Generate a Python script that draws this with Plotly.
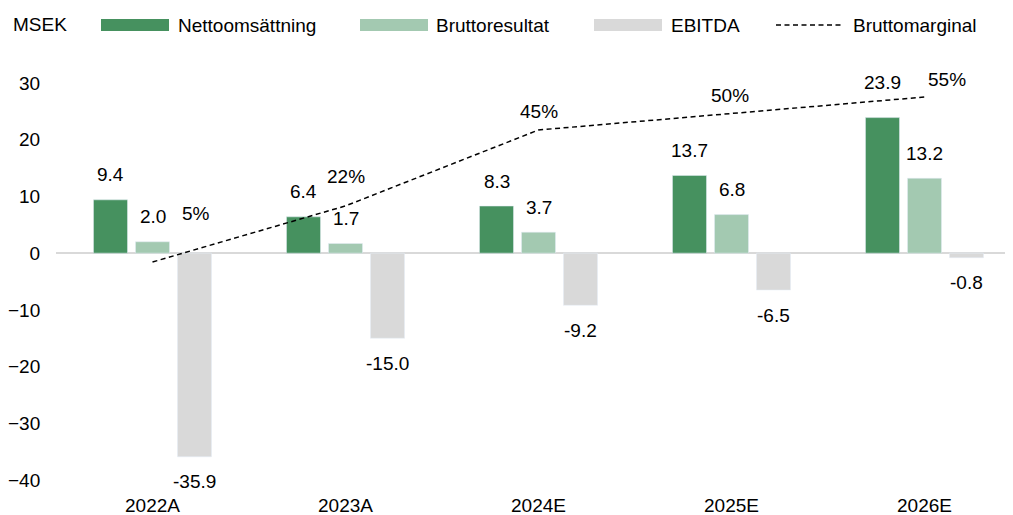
import plotly.graph_objects as go

# ---- data ----
categories = ["2022A", "2023A", "2024E", "2025E", "2026E"]
nettoomsattning = [9.4, 6.4, 8.3, 13.7, 23.9]
bruttoresultat = [2.0, 1.7, 3.7, 6.8, 13.2]
ebitda = [-35.9, -15.0, -9.2, -6.5, -0.8]
bruttomarginal = [0.05, 0.22, 0.45, 0.50, 0.55]
series_names = ["Nettoomsättning", "Bruttoresultat", "EBITDA", "Bruttomarginal"]
unit_label = "MSEK"

# ---- style ----
FONT = "Liberation Sans, Arial, sans-serif"
FS = 19
C_NETTO = "#46915f"
C_BRUTTO = "#a3c9b1"
C_EBITDA = "#d9d9d9"
OFF = 8                       # page body margin
W, H = 1013 - OFF, 515 - OFF
L, R, T, B = 56 - OFF, 0, 83 - OFF, 35
PW, PH = W - L - R, H - T - B
BAR_OFF = 42          # px between grouped bar centres
LBL_GAP = 25          # px from bar end to label centre
# per-point label shifts for the margin line (px)
margin_lbl_dx = [43, 0, 0, -2, 22]
margin_lbl_dy = [49, 29, 18, 18, 17]
netto_lbl_dy = [LBL_GAP, LBL_GAP, LBL_GAP, LBL_GAP, 35]


def px_x(p):
    return (p - OFF - L) / PW


def px_y(p):
    return (H - B - (p - OFF)) / PH


fig = go.Figure()
fig.add_trace(go.Bar(x=categories, y=nettoomsattning, name=series_names[0],
                     marker_color=C_NETTO, showlegend=False))
fig.add_trace(go.Bar(x=categories, y=bruttoresultat, name=series_names[1],
                     marker_color=C_BRUTTO, showlegend=False))
fig.add_trace(go.Bar(x=categories, y=ebitda, name=series_names[2],
                     marker_color=C_EBITDA, showlegend=False))
fig.add_trace(go.Scatter(x=categories, y=bruttomarginal, name=series_names[3],
                         mode="lines", yaxis="y2", showlegend=False,
                         line=dict(color="black", width=1.5, dash="5px,3.5px")))

ann = []
for i, c in enumerate(categories):
    ann.append(dict(x=c, y=nettoomsattning[i], xref="x", yref="y",
                    text=f"{nettoomsattning[i]:.1f}", showarrow=False,
                    xshift=-BAR_OFF, yshift=netto_lbl_dy[i]))
    ann.append(dict(x=c, y=bruttoresultat[i], xref="x", yref="y",
                    text=f"{bruttoresultat[i]:.1f}", showarrow=False,
                    xshift=0, yshift=LBL_GAP))
    ann.append(dict(x=c, y=ebitda[i], xref="x", yref="y",
                    text=f"{ebitda[i]:.1f}", showarrow=False,
                    xshift=BAR_OFF, yshift=-LBL_GAP))
    ann.append(dict(x=c, y=bruttomarginal[i], xref="x", yref="y2",
                    text=f"{bruttomarginal[i]*100:.0f}%", showarrow=False,
                    xshift=margin_lbl_dx[i], yshift=margin_lbl_dy[i]))

# manual legend (page pixel coordinates)
LEG_Y = 25
ann.append(dict(x=px_x(11), y=px_y(LEG_Y - 1), xref="paper", yref="paper",
                text=unit_label, showarrow=False, xanchor="left", yanchor="middle"))
swatches = [(101, 169, C_NETTO, 176), (360, 428, C_BRUTTO, 434), (594, 662, C_EBITDA, 669)]
shapes = []
for (x0, x1, col, tx), name in zip(swatches, series_names[:3]):
    shapes.append(dict(type="rect", xref="paper", yref="paper",
                       x0=px_x(x0), x1=px_x(x1), y0=px_y(LEG_Y - 6), y1=px_y(LEG_Y + 6),
                       fillcolor=col, line=dict(width=0)))
    ann.append(dict(x=px_x(tx), y=px_y(LEG_Y), xref="paper", yref="paper",
                    text=name, showarrow=False, xanchor="left", yanchor="middle"))
shapes.append(dict(type="line", xref="paper", yref="paper",
                   x0=px_x(776), x1=px_x(843), y0=px_y(LEG_Y), y1=px_y(LEG_Y),
                   line=dict(color="black", width=1.5, dash="5px,3.5px")))
ann.append(dict(x=px_x(851), y=px_y(LEG_Y), xref="paper", yref="paper",
                text=series_names[3], showarrow=False, xanchor="left", yanchor="middle"))

fig.update_layout(
    width=W, height=H,
    margin=dict(l=L, r=R, t=T, b=B, autoexpand=False),
    paper_bgcolor="white", plot_bgcolor="white",
    font=dict(family=FONT, size=FS, color="black"),
    barmode="group", bargap=0.347, bargroupgap=0.19,
    annotations=ann, shapes=shapes,
    xaxis=dict(type="category", range=[-0.5, -0.5 + PW / 193], showgrid=False,
               showline=False, ticks="outside", ticklen=8, automargin=False,
               tickcolor="rgba(0,0,0,0)", zeroline=False),
    yaxis=dict(range=[-40, 30], dtick=10, showgrid=False, showline=False,
               zeroline=True, zerolinecolor="#d9d9d9", zerolinewidth=2,
               automargin=False,
               ticks="outside", ticklen=11, tickcolor="rgba(0,0,0,0)"),
    yaxis2=dict(range=[-0.6106, 0.5924], overlaying="y", visible=False,
                automargin=False),
)
for a in fig.layout.annotations:
    a.update(font=dict(family=FONT, size=FS, color="black"))

fig.write_html("out.html")
